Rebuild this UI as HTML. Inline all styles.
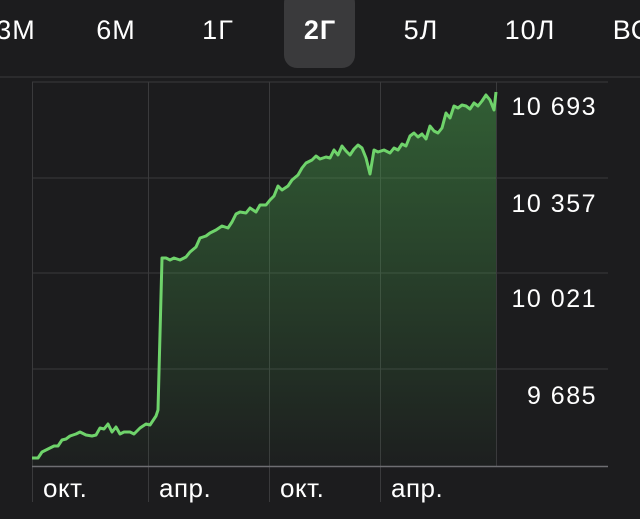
<!DOCTYPE html>
<html><head><meta charset="utf-8"><style>
html,body{margin:0;padding:0;background:#1c1c1e;}
body{width:640px;height:519px;overflow:hidden;position:relative;font-family:"Liberation Sans",sans-serif;color:#fff;}
.tab{position:absolute;top:15px;font-size:27px;letter-spacing:1px;transform:translateX(-50%);}
.pill{position:absolute;left:284px;top:-10px;width:71px;height:78px;background:#3a3a3c;border-radius:13px;}
.yl{position:absolute;right:43px;font-size:25px;letter-spacing:1.5px;}
.xl{position:absolute;top:473px;font-size:26px;letter-spacing:0.5px;}
</style></head><body>
<div class="pill"></div>
<div class="tab" style="left:16px">3M</div>
<div class="tab" style="left:116px">6M</div>
<div class="tab" style="left:218px">1Г</div>
<div class="tab" style="left:320px;font-weight:bold">2Г</div>
<div class="tab" style="left:421px">5Л</div>
<div class="tab" style="left:530px">10Л</div>
<div class="tab" style="left:632px">ВС</div>
<svg width="640" height="519" style="position:absolute;left:0;top:0">
<defs><linearGradient id="g" x1="0" y1="0" x2="0" y2="1">
<stop offset="0" stop-color="#4caf50" stop-opacity="0.45"/><stop offset="1" stop-color="#4caf50" stop-opacity="0.02"/></linearGradient></defs>
<line x1="0" y1="77" x2="640" y2="77" stroke="#3a3a3c" stroke-width="1"/>
<g stroke="#3a3a3c" stroke-width="1">
<line x1="32" y1="82" x2="608" y2="82"/>
<line x1="32" y1="178" x2="608" y2="178"/>
<line x1="32" y1="273" x2="608" y2="273"/>
<line x1="32" y1="369" x2="608" y2="369"/>
<line x1="32.5" y1="82" x2="32.5" y2="502"/>
<line x1="148.5" y1="82" x2="148.5" y2="502"/>
<line x1="269.5" y1="82" x2="269.5" y2="502"/>
<line x1="380.5" y1="82" x2="380.5" y2="502"/>
<line x1="496.5" y1="82" x2="496.5" y2="467"/>
</g>
<line x1="32" y1="466.5" x2="608" y2="466.5" stroke="#6e6e72" stroke-width="1.5"/>
<polygon fill="url(#g)" points="32,466 32,458 38,458 42,452 48,449 54,446 58,446 62,440 66,439 70,436 76,434 80,432 86,435 92,436 96,435 100,428 104,429 108,424 112,432 116,427 120,434 124,432 130,432 134,434 140,428 146,424 150,425 156,416 158,410 162,258 166,258 170,260 174,258 180,260 186,257 190,252 196,247 200,238 206,236 210,233 216,230 222,226 228,228 232,222 236,214 240,212 246,213 250,208 256,212 260,205 266,205 270,200 274,196 278,186 282,190 288,186 292,180 298,175 302,168 306,163 312,160 316,156 320,159 326,157 330,158 334,150 338,155 342,146 346,151 350,155 354,149 358,145 362,148 366,158 370,174 374,150 378,152 384,150 390,153 394,148 398,150 402,144 406,146 410,136 414,133 418,137 422,134 426,139 430,126 434,131 438,133 442,128 446,113 450,118 454,106 458,108 462,105 466,106 470,109 474,103 478,106 482,101 486,95 490,100 494,110 496,92 496,466"/>
<polyline fill="none" stroke="#6fd36b" stroke-width="3" stroke-linejoin="round" points="32,458 38,458 42,452 48,449 54,446 58,446 62,440 66,439 70,436 76,434 80,432 86,435 92,436 96,435 100,428 104,429 108,424 112,432 116,427 120,434 124,432 130,432 134,434 140,428 146,424 150,425 156,416 158,410 162,258 166,258 170,260 174,258 180,260 186,257 190,252 196,247 200,238 206,236 210,233 216,230 222,226 228,228 232,222 236,214 240,212 246,213 250,208 256,212 260,205 266,205 270,200 274,196 278,186 282,190 288,186 292,180 298,175 302,168 306,163 312,160 316,156 320,159 326,157 330,158 334,150 338,155 342,146 346,151 350,155 354,149 358,145 362,148 366,158 370,174 374,150 378,152 384,150 390,153 394,148 398,150 402,144 406,146 410,136 414,133 418,137 422,134 426,139 430,126 434,131 438,133 442,128 446,113 450,118 454,106 458,108 462,105 466,106 470,109 474,103 478,106 482,101 486,95 490,100 494,110 496,92"/>
</svg>
<div class="yl" style="top:93px">10 693</div>
<div class="yl" style="top:190px">10 357</div>
<div class="yl" style="top:285px">10 021</div>
<div class="yl" style="top:382px">9 685</div>
<div class="xl" style="left:43px">окт.</div>
<div class="xl" style="left:159px">апр.</div>
<div class="xl" style="left:280px">окт.</div>
<div class="xl" style="left:391px">апр.</div>
</body></html>
